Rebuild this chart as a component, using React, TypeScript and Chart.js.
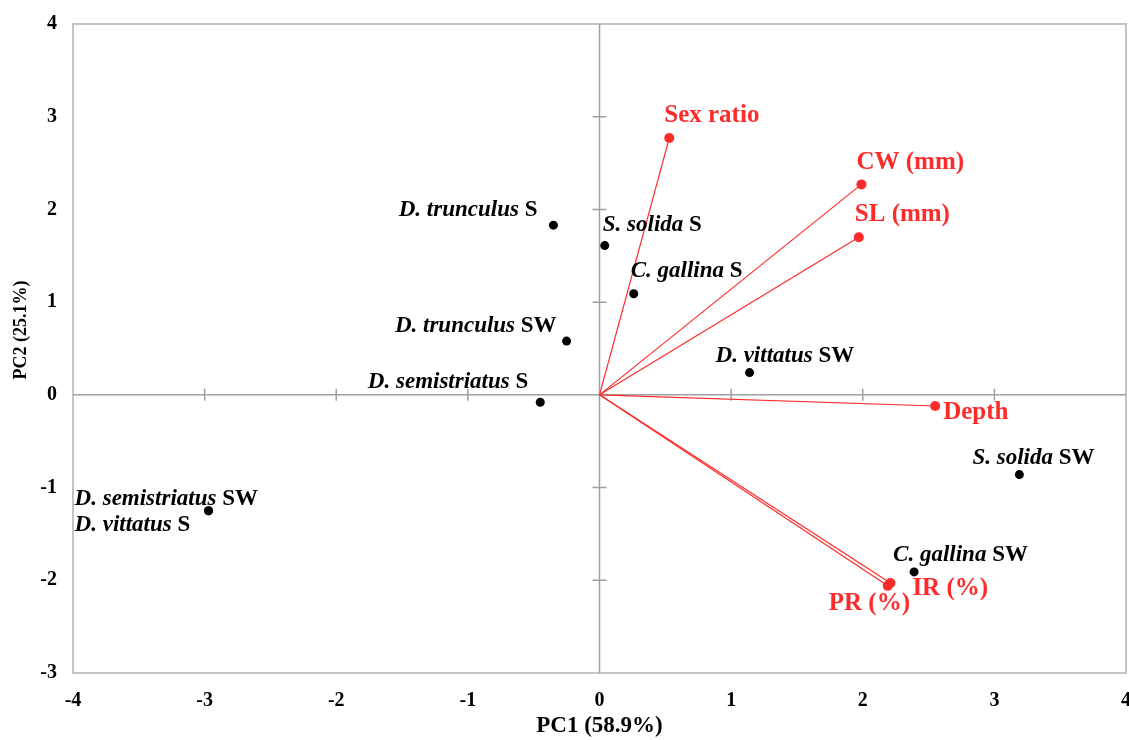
import React, { useEffect, useRef } from "react";
import { Chart, registerables } from "chart.js";

Chart.register(...registerables);

// ---- data ----
const speciesGenus = [
  "D. trunculus",
  "S. solida",
  "C. gallina",
  "D. trunculus",
  "D. vittatus",
  "D. semistriatus",
  "D. semistriatus",
  "D. vittatus",
  "S. solida",
  "C. gallina",
];
const speciesSeason = ["S", "S", "S", "SW", "SW", "S", "SW", "S", "SW", "SW"];
const speciesPC1 = [-0.35, 0.04, 0.26, -0.25, 1.14, -0.45, -2.97, -2.97, 3.19, 2.39];
const speciesPC2 = [1.83, 1.61, 1.09, 0.58, 0.24, -0.08, -1.25, -1.25, -0.86, -1.91];

const varNames = ["Sex ratio", "CW (mm)", "SL (mm)", "Depth", "IR (%)", "PR (%)"];
const varPC1 = [0.53, 1.99, 1.97, 2.55, 2.21, 2.19];
const varPC2 = [2.77, 2.27, 1.7, -0.12, -2.03, -2.06];

const xTitle = "PC1 (58.9%)";
const yTitle = "PC2 (25.1%)";

// ---- label placement (pixel offsets from the point) ----
const speciesLabelPlace: [number, number, "left" | "right"][] = [
  [-16, -15, "right"],
  [-2, -21, "left"],
  [-3, -23, "left"],
  [-10, -15, "right"],
  [-34, -17, "left"],
  [-12, -20, "right"],
  [-134, -12, "left"],
  [-134, 14, "left"],
  [-47, -17, "left"],
  [-21, -17, "left"],
];
const varLabelPlace: [number, number, "left" | "right"][] = [
  [-5, -22, "left"],
  [-5, -22, "left"],
  [-4, -23, "left"],
  [8, 7, "left"],
  [22, 5, "left"],
  [-59, 18, "left"],
];

const SERIF = "'Liberation Serif', 'Times New Roman', serif";
const RED = "#ff2a2a";

const decorPlugin = {
  id: "decor",
  beforeDatasetsDraw(chart: any) {
    const { ctx, chartArea: a, scales } = chart;
    const xs = scales.x;
    const ys = scales.y;
    const x0 = xs.getPixelForValue(0);
    const y0 = ys.getPixelForValue(0);
    ctx.save();
    // frame
    ctx.strokeStyle = "#c4c4c4";
    ctx.lineWidth = 2;
    ctx.strokeRect(a.left, a.top, a.right - a.left, a.bottom - a.top);
    // zero axes
    ctx.strokeStyle = "#a0a0a0";
    ctx.lineWidth = 1.5;
    ctx.beginPath();
    ctx.moveTo(a.left, y0);
    ctx.lineTo(a.right, y0);
    ctx.moveTo(x0, a.top);
    ctx.lineTo(x0, a.bottom);
    for (let v = -3; v <= 3; v++) {
      const px = xs.getPixelForValue(v);
      ctx.moveTo(px, y0 - 6);
      ctx.lineTo(px, y0 + 6);
    }
    for (let v = -2; v <= 3; v++) {
      const py = ys.getPixelForValue(v);
      ctx.moveTo(x0 - 7, py);
      ctx.lineTo(x0 + 7, py);
    }
    ctx.stroke();
    // y-axis title (sits above the axis centre in the reference)
    ctx.save();
    ctx.translate(21, 330);
    ctx.rotate(-Math.PI / 2);
    ctx.font = `bold 18px ${SERIF}`;
    ctx.fillStyle = "#000";
    ctx.textAlign = "center";
    ctx.textBaseline = "middle";
    ctx.fillText(yTitle, 0, 0);
    ctx.restore();
    ctx.restore();
  },
  afterDatasetsDraw(chart: any) {
    const { ctx, scales } = chart;
    const xs = scales.x;
    const ys = scales.y;
    ctx.save();
    ctx.textBaseline = "middle";
    // species labels
    const italicFont = `italic bold 23px ${SERIF}`;
    const boldFont = `bold 23px ${SERIF}`;
    speciesGenus.forEach((g, i) => {
      const px = xs.getPixelForValue(speciesPC1[i]);
      const py = ys.getPixelForValue(speciesPC2[i]);
      const [dx, dy, align] = speciesLabelPlace[i];
      const suffix = " " + speciesSeason[i];
      ctx.font = italicFont;
      const w1 = ctx.measureText(g).width;
      ctx.font = boldFont;
      const w2 = ctx.measureText(suffix).width;
      let sx = px + dx;
      if (align === "right") sx -= w1 + w2;
      ctx.fillStyle = "#000";
      ctx.textAlign = "left";
      ctx.font = italicFont;
      ctx.fillText(g, sx, py + dy);
      ctx.font = boldFont;
      ctx.fillText(suffix, sx + w1, py + dy);
    });
    // variable labels
    ctx.font = `bold 25px ${SERIF}`;
    ctx.fillStyle = RED;
    varNames.forEach((n, i) => {
      const px = xs.getPixelForValue(varPC1[i]);
      const py = ys.getPixelForValue(varPC2[i]);
      const [dx, dy, align] = varLabelPlace[i];
      ctx.textAlign = align;
      ctx.fillText(n, px + dx, py + dy);
    });
    ctx.restore();
  },
};

export default function App() {
  const ref = useRef<HTMLCanvasElement>(null);
  useEffect(() => {
    if (!ref.current) return;
    const vecSets = varNames.map((n, i) => ({
      type: "line" as const,
      label: n,
      data: [
        { x: 0, y: 0 },
        { x: varPC1[i], y: varPC2[i] },
      ],
      borderColor: RED,
      backgroundColor: RED,
      borderWidth: 1.2,
      pointRadius: [0, 5],
      pointBorderWidth: 0,
      showLine: true,
      clip: false,
    }));
    const chart = new Chart(ref.current, {
      type: "scatter",
      data: {
        datasets: [
          ...vecSets,
          {
            label: "Species",
            data: speciesPC1.map((x, i) => ({ x, y: speciesPC2[i] })),
            backgroundColor: "#000",
            borderColor: "#000",
            pointRadius: 4.5,
            pointBorderWidth: 0,
          } as any,
        ],
      },
      options: {
        animation: false,
        responsive: false,
        layout: { padding: { top: 24, right: 3, left: 0, bottom: 0 }, autoPadding: false } as any,
        plugins: {
          legend: { display: false },
          tooltip: { enabled: false },
        },
        scales: {
          x: {
            type: "linear",
            min: -4,
            max: 4,
            grid: { display: false },
            border: { display: false },
            ticks: {
              stepSize: 1,
              padding: 8,
              color: "#000",
              font: { family: SERIF, size: 20, weight: "bold" },
            },
            title: {
              display: true,
              text: xTitle,
              color: "#000",
              font: { family: SERIF, size: 23, weight: "bold" },
              padding: { top: 0, bottom: 0 },
            },
            afterFit(scale: any) {
              scale.height = 67;
              scale.paddingLeft = 0;
              scale.paddingRight = 0;
            },
          },
          y: {
            type: "linear",
            min: -3,
            max: 4,
            grid: { display: false },
            border: { display: false },
            ticks: {
              stepSize: 1,
              padding: 8,
              color: "#000",
              font: { family: SERIF, size: 20, weight: "bold" },
            },
            title: { display: false },
            afterFit(scale: any) {
              scale.width = 73;
              scale.paddingTop = 0;
              scale.paddingBottom = 0;
            },
          },
        },
      },
      plugins: [decorPlugin],
    });
    return () => chart.destroy();
  }, []);
  return (
    <div style={{ position: "absolute", left: 0, top: 0, width: 1129, height: 740, background: "#fff" }}>
      <canvas ref={ref} width={1129} height={740} style={{ display: "block" }} />
    </div>
  );
}
